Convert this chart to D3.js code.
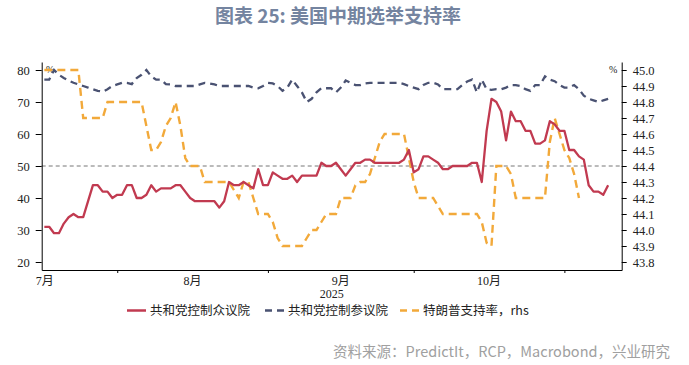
<!DOCTYPE html>
<html>
<head>
<meta charset="utf-8">
<script src="https://cdn.jsdelivr.net/npm/d3@7"></script>
<style>
body{margin:0;background:#fff}
svg{display:block}
</style>
</head>
<body>
<svg id="chart" width="689" height="365"></svg>
<script>
// daily series, first point 2025-07-17
const firstDay = new Date(2025, 6, 17);

// 共和党控制众议院 (lhs, %)
const house = [31,31,29,29,32,34,35,34,34,39,
  44,44,42,42,40,41,41,44,44,40,
  40,41,44,42,43,43,43,44,44,42,
  40,39,39,39,39,39,37,39,45,44,
  44,45,44,43,49,44,44,48,47,46,
  46,47,45,47,47,47,47,51,50,50,
  51,49,47,49,51,51,52,52,51,51,
  51,51,51,51,52,55,48,49,53,53,
  52,51,49,49,50,50,50,50,51,51,
  45,61,71,70,67,58,67,64,64,61,
  61,57,57,58,64,63,61,61,55,55,
  53,52,44,42,42,41,44];

// 共和党控制参议院 (lhs, %)
const senate = [77,77,80,78.5,77.5,76.7,76,75.5,75,74.5,
  74,73.5,73.2,74,75,75.5,76,76,75.6,77.5,
  78.5,80,78,77,77,75.6,75.5,75,75,75,
  75,75,75.5,76,75.8,75.5,75,75,75,75,
  75,75,75,74.5,74.3,75,76,75.8,75,73.5,
  74.5,77,75,73,70,71,73,74.3,74.3,74.3,
  73,74.5,76.7,76,75.3,75.3,75.8,76,76,76,
  76,76,76,76,75.6,75,74.5,74,75.3,76,
  76,75.5,74,74,74,74,75.3,76.4,77,73,
  77,74,73.8,74,74,74.5,75.3,75.3,75,74,
  73.5,75.3,75.3,78,77,76.5,75.3,74.5,74.5,75.3,
  74,72,71,70.5,70,70.5,71];

// 特朗普支持率 (rhs, %)
const trump = [45.0,45.0,45.0,45.0,45.0,45.0,45.0,45.0,44.7,44.7,
  44.7,44.7,44.7,44.8,44.8,44.8,44.8,44.8,44.8,44.8,
  44.8,44.65,44.5,44.5,44.55,44.65,44.7,44.8,44.65,44.45,
  44.4,44.4,44.4,44.3,44.3,44.3,44.3,44.3,44.3,44.25,
  44.2,44.3,44.3,44.2,44.1,44.1,44.1,44.05,43.95,43.9,
  43.9,43.9,43.9,43.9,43.95,44.0,44.0,44.05,44.1,44.1,
  44.1,44.2,44.2,44.2,44.28,44.3,44.3,44.35,44.45,44.55,
  44.6,44.6,44.6,44.6,44.6,44.45,44.3,44.2,44.2,44.2,
  44.2,44.15,44.1,44.1,44.1,44.1,44.1,44.1,44.1,44.1,
  44.05,43.92,43.9,44.4,44.4,44.4,44.35,44.2,44.2,44.2,
  44.2,44.2,44.2,44.2,44.55,44.7,44.6,44.5,44.45,44.35,
  44.2];

const leftTicks = [20,30,40,50,60,70,80];
const rightTicks = [43.8,43.9,44.0,44.1,44.2,44.3,44.4,44.5,44.6,44.7,44.8,44.9,45.0];
const monthNames = ["7月","8月","9月","10月"];
const refLevel = 50;

const seriesNames = ["共和党控制众议院","共和党控制参议院","特朗普支持率，rhs"];
const colors = ["#c13a50","#4a5272","#f2a93a"];

const svg = d3.select("#chart");
const x0 = 41.7, x1 = 621.7, yTop = 62, yBot = 270;
const numFont = "'Liberation Serif','Times New Roman',serif";

var x = d3.scaleTime()
  .domain([d3.timeHour.offset(firstDay, -13), d3.timeHour.offset(new Date(2025,10,12), 19)])
  .range([x0, x1]);
var yL = d3.scaleLinear().domain([17.5, 82.5]).range([yBot, yTop]);
var yR = d3.scaleLinear().domain([43.75, 45.05]).range([yBot, yTop]);

// title
svg.append("text")
  .attr("x", 338).attr("y", 23)
  .attr("text-anchor", "middle")
  .style("font", "bold 19px 'Noto Sans CJK SC', sans-serif")
  .style("fill", "#7484a0")
  .text("图表 25: 美国中期选举支持率");

// 50 reference line
svg.append("line")
  .attr("x1", x0).attr("x2", x1)
  .attr("y1", yL(refLevel)).attr("y2", yL(refLevel))
  .attr("stroke", "#777").attr("stroke-width", 1)
  .attr("stroke-dasharray", "4,3");

// axes
var gl = svg.append("g")
  .attr("transform", `translate(${x0},0)`)
  .call(d3.axisLeft(yL).tickValues(leftTicks).tickSize(6).tickSizeOuter(0).tickPadding(6));
var gr = svg.append("g")
  .attr("transform", `translate(${x1},0)`)
  .call(d3.axisRight(yR).tickValues(rightTicks).tickFormat(d3.format(".1f")).tickSize(5).tickSizeOuter(0).tickPadding(6));

var monthStarts = [1,2,3,4].map(function(i){return new Date(2025, 6+i, 1)});
var gb = svg.append("g")
  .attr("transform", `translate(0,${yBot})`)
  .call(d3.axisBottom(x).tickValues(monthStarts).tickFormat("").tickSize(3).tickSizeOuter(0));

[gl, gr, gb].forEach(function(g){
  g.select(".domain").attr("stroke", "#000");
  g.selectAll(".tick line").attr("stroke", "#000");
  g.selectAll(".tick text")
    .style("font-family", numFont)
    .style("font-size", "12.5px")
    .style("fill", "#222");
});

// month labels at mid-month
svg.selectAll(".mlabel")
  .data(monthNames)
  .enter()
  .append("text")
    .attr("class", "mlabel")
    .attr("x", function(d, i){
      var m0 = new Date(2025, 6+i, 1), m1 = new Date(2025, 7+i, 1);
      var mid = new Date((+m0 + +m1)/2);
      return Math.max(x(mid), x0 + 3);
    })
    .attr("y", 285)
    .attr("text-anchor", "middle")
    .style("font-family", numFont + ",'Noto Sans CJK SC'")
    .style("font-size", "12px")
    .style("fill", "#222")
    .text(function(d){return d});

svg.append("text")
  .attr("x", (x0+x1)/2).attr("y", 297.5)
  .attr("text-anchor", "middle")
  .style("font-family", numFont).style("font-size", "12px").style("fill", "#222")
  .text("2025");

// % unit marks
svg.append("text").attr("x", 46).attr("y", 73)
  .style("font-family", numFont).style("font-size", "10px").style("fill", "#222").text("%");
svg.append("text").attr("x", 609).attr("y", 73)
  .style("font-family", numFont).style("font-size", "10px").style("fill", "#222").text("%");

// lines
function day(i){return d3.timeDay.offset(firstDay, i)}
var lineL = d3.line().x(function(d, i){return x(day(i))}).y(function(d){return yL(d)});
var lineR = d3.line().x(function(d, i){return x(day(i))}).y(function(d){return yR(d)});

svg.append("path").datum(senate)
  .attr("d", lineL).attr("fill", "none")
  .attr("stroke", colors[1]).attr("stroke-width", 2.3)
  .attr("stroke-dasharray", "7,5");
svg.append("path").datum(trump)
  .attr("d", lineR).attr("fill", "none")
  .attr("stroke", colors[2]).attr("stroke-width", 2.4)
  .attr("stroke-dasharray", "8,5");
svg.append("path").datum(house)
  .attr("d", lineL).attr("fill", "none")
  .attr("stroke", colors[0]).attr("stroke-width", 2.3)
  .attr("stroke-linejoin", "round");

// legend
var legendX = [127, 265, 400];
var legend = svg.append("g");
legendX.forEach(function(lx, i){
  legend.append("line")
    .attr("x1", lx).attr("x2", lx + 19)
    .attr("y1", 310.5).attr("y2", 310.5)
    .attr("stroke", colors[i]).attr("stroke-width", 2.5)
    .attr("stroke-dasharray", i == 0 ? null : "7,5");
  legend.append("text")
    .attr("x", lx + 23).attr("y", 315)
    .style("font", "12.5px 'Noto Sans CJK SC', sans-serif")
    .style("fill", "#222")
    .text(seriesNames[i]);
});

// source
svg.append("text")
  .attr("x", 670).attr("y", 357)
  .attr("text-anchor", "end")
  .style("font", "14.5px 'Noto Sans CJK SC', sans-serif")
  .style("fill", "#a0a0a0")
  .text("资料来源：PredictIt，RCP，Macrobond，兴业研究");
</script>
</body>
</html>
